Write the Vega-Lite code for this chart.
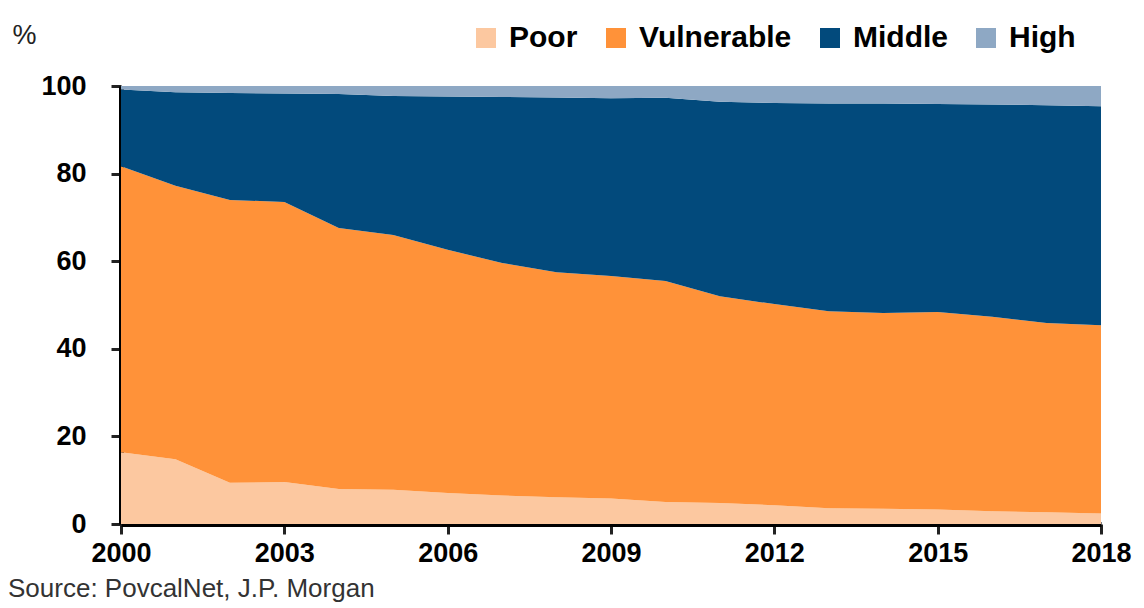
{
  "$schema": "https://vega.github.io/schema/vega-lite/v6.json",
  "width": 980,
  "height": 438,
  "autosize": "none",
  "padding": {"left": 121, "top": 86, "right": 43, "bottom": 84},
  "background": "white",
  "config": {"view": {"stroke": null}, "font": "Liberation Sans"},
  "title": {"text": "Source: PovcalNet, J.P. Morgan", "orient": "bottom", "anchor": "start", "frame": "bounds", "fontSize": 26, "fontWeight": "normal", "color": "#333333", "offset": 10, "dx": -4},
  "data": {"values": [
    {"year": 2000, "class": "Poor", "value": 16.4}, {"year": 2000, "class": "Vulnerable", "value": 65.3}, {"year": 2000, "class": "Middle", "value": 17.5}, {"year": 2000, "class": "High", "value": 0.8},
    {"year": 2001, "class": "Poor", "value": 14.8}, {"year": 2001, "class": "Vulnerable", "value": 62.4}, {"year": 2001, "class": "Middle", "value": 21.4}, {"year": 2001, "class": "High", "value": 1.4},
    {"year": 2002, "class": "Poor", "value": 9.4}, {"year": 2002, "class": "Vulnerable", "value": 64.6}, {"year": 2002, "class": "Middle", "value": 24.4}, {"year": 2002, "class": "High", "value": 1.6},
    {"year": 2003, "class": "Poor", "value": 9.6}, {"year": 2003, "class": "Vulnerable", "value": 63.9}, {"year": 2003, "class": "Middle", "value": 24.8}, {"year": 2003, "class": "High", "value": 1.7},
    {"year": 2004, "class": "Poor", "value": 8.0}, {"year": 2004, "class": "Vulnerable", "value": 59.6}, {"year": 2004, "class": "Middle", "value": 30.6}, {"year": 2004, "class": "High", "value": 1.8},
    {"year": 2005, "class": "Poor", "value": 7.8}, {"year": 2005, "class": "Vulnerable", "value": 58.2}, {"year": 2005, "class": "Middle", "value": 31.7}, {"year": 2005, "class": "High", "value": 2.3},
    {"year": 2006, "class": "Poor", "value": 7.1}, {"year": 2006, "class": "Vulnerable", "value": 55.5}, {"year": 2006, "class": "Middle", "value": 35.0}, {"year": 2006, "class": "High", "value": 2.4},
    {"year": 2007, "class": "Poor", "value": 6.5}, {"year": 2007, "class": "Vulnerable", "value": 53.1}, {"year": 2007, "class": "Middle", "value": 37.9}, {"year": 2007, "class": "High", "value": 2.5},
    {"year": 2008, "class": "Poor", "value": 6.1}, {"year": 2008, "class": "Vulnerable", "value": 51.4}, {"year": 2008, "class": "Middle", "value": 39.9}, {"year": 2008, "class": "High", "value": 2.6},
    {"year": 2009, "class": "Poor", "value": 5.8}, {"year": 2009, "class": "Vulnerable", "value": 50.8}, {"year": 2009, "class": "Middle", "value": 40.6}, {"year": 2009, "class": "High", "value": 2.8},
    {"year": 2010, "class": "Poor", "value": 5.0}, {"year": 2010, "class": "Vulnerable", "value": 50.5}, {"year": 2010, "class": "Middle", "value": 41.8}, {"year": 2010, "class": "High", "value": 2.7},
    {"year": 2011, "class": "Poor", "value": 4.8}, {"year": 2011, "class": "Vulnerable", "value": 47.2}, {"year": 2011, "class": "Middle", "value": 44.4}, {"year": 2011, "class": "High", "value": 3.6},
    {"year": 2012, "class": "Poor", "value": 4.3}, {"year": 2012, "class": "Vulnerable", "value": 45.9}, {"year": 2012, "class": "Middle", "value": 45.9}, {"year": 2012, "class": "High", "value": 3.9},
    {"year": 2013, "class": "Poor", "value": 3.6}, {"year": 2013, "class": "Vulnerable", "value": 45.0}, {"year": 2013, "class": "Middle", "value": 47.4}, {"year": 2013, "class": "High", "value": 4.0},
    {"year": 2014, "class": "Poor", "value": 3.5}, {"year": 2014, "class": "Vulnerable", "value": 44.7}, {"year": 2014, "class": "Middle", "value": 47.8}, {"year": 2014, "class": "High", "value": 4.0},
    {"year": 2015, "class": "Poor", "value": 3.3}, {"year": 2015, "class": "Vulnerable", "value": 45.1}, {"year": 2015, "class": "Middle", "value": 47.5}, {"year": 2015, "class": "High", "value": 4.1},
    {"year": 2016, "class": "Poor", "value": 2.9}, {"year": 2016, "class": "Vulnerable", "value": 44.4}, {"year": 2016, "class": "Middle", "value": 48.5}, {"year": 2016, "class": "High", "value": 4.2},
    {"year": 2017, "class": "Poor", "value": 2.7}, {"year": 2017, "class": "Vulnerable", "value": 43.2}, {"year": 2017, "class": "Middle", "value": 49.7}, {"year": 2017, "class": "High", "value": 4.4},
    {"year": 2018, "class": "Poor", "value": 2.4}, {"year": 2018, "class": "Vulnerable", "value": 43.0}, {"year": 2018, "class": "Middle", "value": 50.0}, {"year": 2018, "class": "High", "value": 4.6}
  ]},
  "transform": [
    {"calculate": "indexof(['Poor','Vulnerable','Middle','High'], datum['class'])", "as": "stackorder"}
  ],
  "mark": {"type": "area", "interpolate": "linear"},
  "encoding": {
    "x": {
      "field": "year", "type": "quantitative",
      "scale": {"domain": [2000, 2018], "nice": false, "zero": false},
      "axis": {"title": null, "values": [2000, 2003, 2006, 2009, 2012, 2015, 2018], "format": "d", "grid": false,
        "domainColor": "black", "domainWidth": 5, "tickColor": "#222", "tickWidth": 3, "tickSize": 10,
        "labelFontSize": 27, "labelFontWeight": "bold", "labelColor": "black", "labelPadding": 6, "labelFlush": false}
    },
    "y": {
      "field": "value", "type": "quantitative", "stack": "zero",
      "scale": {"domain": [0, 100], "nice": false},
      "axis": {"title": "%", "titleAngle": 0, "titleX": -109, "titleY": -43, "titleAlign": "left", "titleBaseline": "alphabetic", "titleFontSize": 27, "titleFontWeight": "normal", "titleColor": "#222",
        "values": [0, 20, 40, 60, 80, 100], "grid": false,
        "domainColor": "black", "domainWidth": 5, "tickColor": "#222", "tickWidth": 3, "tickSize": 10,
        "labelFontSize": 27, "labelFontWeight": "bold", "labelColor": "black", "labelPadding": 25}
    },
    "color": {
      "field": "class", "type": "nominal",
      "scale": {"domain": ["Poor", "Vulnerable", "Middle", "High"], "range": ["#fcc8a0", "#ff9239", "#024a7c", "#8ea8c4"]},
      "legend": {"title": null, "orient": "none", "legendX": 350, "legendY": -63, "direction": "horizontal",
        "symbolType": "square", "symbolSize": 400, "symbolStrokeWidth": 0, "symbolOpacity": 1,
        "labelFontSize": 30, "labelFontWeight": "bold", "labelColor": "black", "labelFont": "Liberation Sans", "columnPadding": 23, "symbolOffset": 0, "labelOffset": 8}
    },
    "order": {"field": "stackorder", "type": "quantitative", "sort": "ascending"}
  }
}
